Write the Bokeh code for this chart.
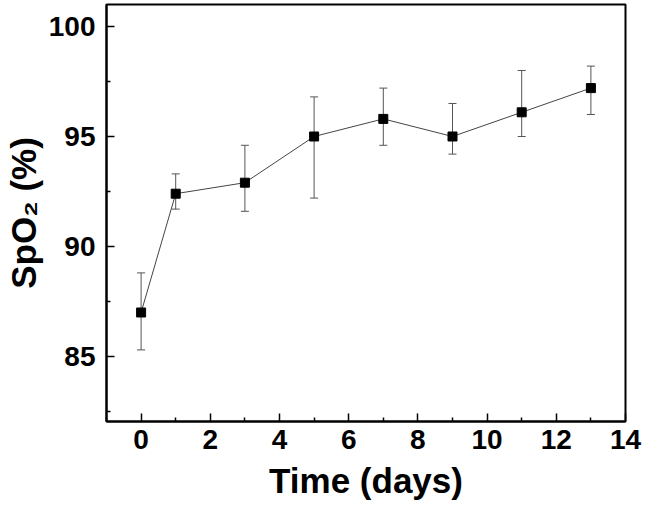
from bokeh.plotting import figure
from bokeh.models import ColumnDataSource, Whisker, TeeHead, FixedTicker, Range1d
from bokeh.embed import file_html
from bokeh.resources import INLINE

# Data
days = [0, 1, 3, 5, 7, 9, 11, 13]
spo2 = [87.0, 92.4, 92.9, 95.0, 95.8, 95.0, 96.1, 97.2]
err_upper = [88.8, 93.3, 94.6, 96.8, 97.2, 96.5, 98.0, 98.2]
err_lower = [85.3, 91.7, 91.6, 92.2, 94.6, 94.2, 95.0, 96.0]

x_major = [0, 2, 4, 6, 8, 10, 12, 14]
x_minor = [-1, 1, 3, 5, 7, 9, 11, 13]
y_major = [85, 90, 95, 100]
y_minor = [82.5, 87.5, 92.5, 97.5]

src = ColumnDataSource(dict(x=days, y=spo2, upper=err_upper, lower=err_lower))

p = figure(width=645, height=509, output_backend="svg", toolbar_location=None,
           x_range=Range1d(-1, 14), y_range=Range1d(82.045, 101.0),
           min_border_left=105, min_border_right=20, min_border_top=4, min_border_bottom=88)

p.xgrid.visible = False
p.ygrid.visible = False
p.outline_line_color = "black"
p.outline_line_width = 2
p.background_fill_color = "white"
p.border_fill_color = "white"

font = "Liberation Sans"
for ax in (p.xaxis[0], p.yaxis[0]):
    ax.axis_line_width = 2
    ax.axis_line_color = "black"
    ax.major_tick_in = 8
    ax.major_tick_out = 0
    ax.minor_tick_in = 4
    ax.minor_tick_out = 0
    ax.major_tick_line_width = 1.5
    ax.minor_tick_line_width = 1.5
    ax.major_tick_line_color = "black"
    ax.minor_tick_line_color = "black"
    ax.major_label_text_font = font
    ax.major_label_text_font_style = "bold"
    ax.major_label_text_font_size = "28px"
    ax.major_label_text_color = "black"
    ax.axis_label_text_font = font
    ax.axis_label_text_font_style = "bold"
    ax.axis_label_text_font_size = "35px"
    ax.axis_label_text_color = "black"

p.xaxis[0].ticker = FixedTicker(ticks=x_major, minor_ticks=x_minor)
p.yaxis[0].ticker = FixedTicker(ticks=y_major, minor_ticks=y_minor)
p.xaxis[0].major_label_standoff = 8
p.yaxis[0].major_label_standoff = 11
p.xaxis[0].axis_label_standoff = 9
p.yaxis[0].axis_label_standoff = 3
p.xaxis[0].axis_label = "Time (days)"
p.yaxis[0].axis_label = "SpO\u2082 (%)"

whisk = Whisker(source=src, base="x", upper="upper", lower="lower",
                line_color="#555555", line_width=1,
                upper_head=TeeHead(size=8, line_color="#555555", line_width=1),
                lower_head=TeeHead(size=8, line_color="#555555", line_width=1))
p.add_layout(whisk)

p.line("x", "y", source=src, line_color="#444444", line_width=1)
p.scatter("x", "y", source=src, marker="square", size=9, fill_color="black", line_color="black")

open("out.html", "w").write(file_html(p, INLINE))
